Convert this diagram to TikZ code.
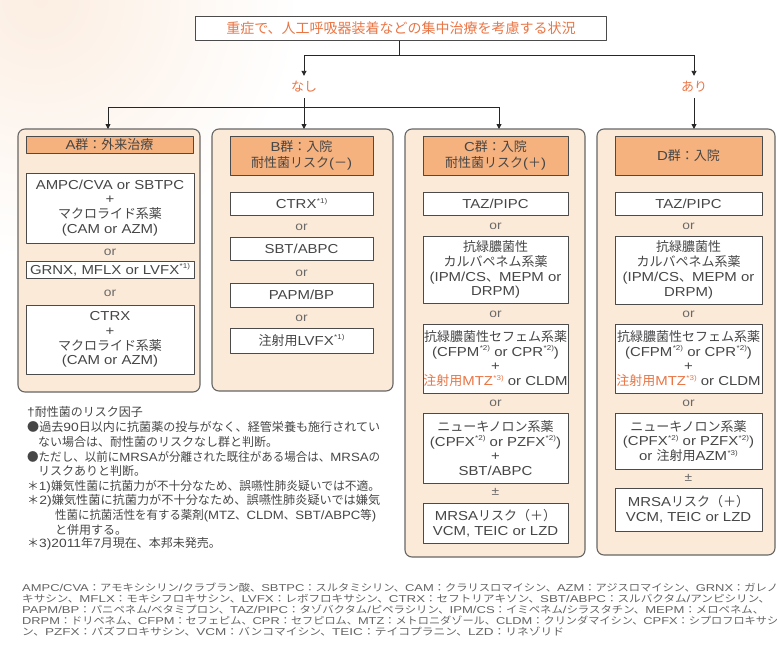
\documentclass[tikz,border=0pt]{standalone}
\usepackage{fontspec}
\usepackage{graphicx}
\usetikzlibrary{arrows.meta}
\setmainfont[FakeStretch=1.15]{Liberation Sans}
\newfontfamily\cjkfont{Noto Sans CJK JP}
% automatic switch between Latin and CJK fonts
\XeTeXinterchartokenstate=1
\ifdefined\newXeTeXintercharclass \newXeTeXintercharclass\CJKcls \else \chardef\CJKcls=20 \fi
\newcount\cjkc
\def\cjkrange#1#2{\cjkc=#1\relax\loop\XeTeXcharclass\cjkc=\CJKcls\relax\ifnum\cjkc<#2\relax\advance\cjkc by 1\relax\repeat}
\cjkrange{"3000}{"30FF}
\cjkrange{"4E00}{"9FFF}
\cjkrange{"FF00}{"FFEF}
\XeTeXcharclass"25CF=\CJKcls
\XeTeXinterchartoks 0 \CJKcls = {\cjkfont}
\XeTeXinterchartoks 4095 \CJKcls = {\cjkfont}
\XeTeXinterchartoks \CJKcls 0 = {\normalfont}
\XeTeXinterchartoks \CJKcls 4095 = {\normalfont}

\definecolor{peach}{RGB}{252,234,216}
\definecolor{hdr}{RGB}{245,177,126}
\definecolor{org}{RGB}{234,118,70}
\definecolor{bord}{RGB}{75,75,75}
\definecolor{txt}{RGB}{70,70,70}
\definecolor{ortxt}{RGB}{105,105,105}
\definecolor{wash}{RGB}{252,238,226}
\definecolor{btxt}{RGB}{100,100,100}

\newcommand\supn[1]{\raisebox{0.42em}{\fontsize{7pt}{7pt}\selectfont\kern0.4pt*#1)}}
\newcommand\bxf{\fontsize{13pt}{14.8pt}\selectfont}

\tikzset{
  ln/.style={line width=0.9pt, draw=black!85},
  arr/.style={ln, -{Triangle[width=5pt,length=5pt]}},
  col/.style={draw=bord!85, line width=1.1pt, fill=peach, rounded corners=7pt, inner sep=0pt, outer sep=0pt},
  hbox/.style={draw=bord, line width=0.9pt, fill=hdr, align=center, text=txt, inner sep=0pt, outer sep=0pt, font=\fontsize{13pt}{16pt}\selectfont},
  wbox/.style={draw=bord, line width=0.9pt, fill=white, align=center, text=txt, inner sep=0pt, outer sep=0pt, font=\bxf},
  ortx/.style={text=ortxt, inner sep=0pt, font=\fontsize{12pt}{12pt}\selectfont},
  topbox/.style={draw=bord, line width=1pt, fill=white, text=org, inner sep=0pt, font=\fontsize{14pt}{16pt}\selectfont},
  lab/.style={text=org, inner sep=0pt, minimum height=22pt, font=\fontsize{13pt}{13pt}\selectfont},
  fnt/.style={anchor=west, text=txt, inner sep=0pt, font=\fontsize{12pt}{12pt}\selectfont},
  btx/.style={anchor=west, text=btxt, inner sep=0pt, font=\fontsize{10pt}{10pt}\selectfont},
}

\begin{document}
\begin{tikzpicture}[x=1pt, y=-1pt, line join=round]
\useasboundingbox (0,0) rectangle (777,659);
\begin{scope}
\clip (0,0) rectangle (777,659);
\shade[inner color=wash, outer color=white] (40,0) circle (260);
\end{scope}

% top
\node[topbox, minimum width=411, minimum height=24] (top) at (401,28) {重症で、人工呼吸器装着などの集中治療を考慮する状況};
\node[lab] (nashi) at (304,87) {なし};
\node[lab] (ari) at (694,87) {あり};

% columns
\node[col, minimum width=182, minimum height=263] (colA) at (109,260.5) {};
\node[col, minimum width=181, minimum height=262] (colB) at (302.5,260) {};
\node[col, minimum width=180, minimum height=428] (colC) at (495,343) {};
\node[col, minimum width=178, minimum height=426] (colD) at (686,342) {};

% connectors
\coordinate (j0) at (399,55);
\coordinate (jl) at (304,55);
\coordinate (jr) at (694,55);
\coordinate (ja) at (108,107);
\coordinate (jb) at (304,107);
\coordinate (jc) at (499,107);
\draw[ln] (j0 |- top.south) -- (j0);
\draw[ln] (jl) -- (jr);
\draw[arr] (jl) -- (nashi.north);
\draw[arr] (jr) -- (ari.north);
\draw[ln] (nashi.south) -- (jb);
\draw[ln] (ja) -- (jc);
\draw[arr] (ja) -- (ja |- colA.north);
\draw[arr] (jb) -- (jb |- colB.north);
\draw[arr] (jc) -- (jc |- colC.north);
\draw[arr] (ari.south) -- (ari.south |- colD.north);

% headers
\node[hbox, minimum width=167, minimum height=17] (hA) at (109.5,144.5) {A群：外来治療};
\node[hbox, minimum width=143, minimum height=39] (hB) at (301.5,155.5) {B群：入院\\耐性菌リスク(－)};
\node[hbox, minimum width=145, minimum height=39] (hC) at (495.5,155.5) {C群：入院\\耐性菌リスク(＋)};
\node[hbox, minimum width=147, minimum height=39] (hD) at (688.5,155.5) {D群：入院};

% column A
\node[wbox, minimum width=168, minimum height=70] (a1) at (110,208) {AMPC/CVA or SBTPC\\+\\マクロライド系薬\\(CAM or AZM)};
\node[ortx] (oa1) at (110,252) {or};
\node[wbox, minimum width=168, minimum height=17] (a2) at (110,270) {GRNX, MFLX or LVFX\supn{1}};
\node[ortx] (oa2) at (110,293) {or};
\node[wbox, minimum width=168, minimum height=69] (a3) at (110,339.5) {CTRX\\+\\マクロライド系薬\\(CAM or AZM)};

% column B
\node[wbox, minimum width=143, minimum height=23] (b1) at (301.5,203.5) {CTRX\supn{1}};
\node[ortx] (ob1) at (301.5,227) {or};
\node[wbox, minimum width=143, minimum height=23] (b2) at (301.5,248.5) {SBT/ABPC};
\node[ortx] (ob2) at (301.5,273) {or};
\node[wbox, minimum width=143, minimum height=24] (b3) at (301.5,295) {PAPM/BP};
\node[ortx] (ob3) at (301.5,318) {or};
\node[wbox, minimum width=143, minimum height=25] (b4) at (301.5,340.5) {注射用LVFX\supn{1}};

% column C
\node[wbox, minimum width=145, minimum height=23] (c1) at (495.5,203.5) {TAZ/PIPC};
\node[ortx] (oc1) at (495.5,226) {or};
\node[wbox, minimum width=145, minimum height=67] (c2) at (495.5,269.5) {抗緑膿菌性\\カルバペネム系薬\\(IPM/CS、MEPM or\\DRPM)};
\node[ortx] (oc2) at (495.5,314) {or};
\node[wbox, minimum width=145, minimum height=69] (c3) at (495.5,358.5) {抗緑膿菌性セフェム系薬\\(CFPM\supn{2} or CPR\supn{2})\\+\\{\color{org}注射用MTZ\supn{3}} or CLDM};
\node[ortx] (oc3) at (495.5,403) {or};
\node[wbox, minimum width=145, minimum height=70] (c4) at (495.5,448) {ニューキノロン系薬\\(CPFX\supn{2} or PZFX\supn{2})\\+\\SBT/ABPC};
\node[ortx] (pc) at (495.5,492) {±};
\node[wbox, minimum width=145, minimum height=40] (c5) at (495.5,523) {MRSAリスク（＋）\\VCM, TEIC or LZD};

% column D
\node[wbox, minimum width=147, minimum height=23] (d1) at (688.5,203.5) {TAZ/PIPC};
\node[ortx] (od1) at (688.5,226) {or};
\node[wbox, minimum width=147, minimum height=68] (d2) at (688.5,270) {抗緑膿菌性\\カルバペネム系薬\\(IPM/CS、MEPM or\\DRPM)};
\node[ortx] (od2) at (688.5,314) {or};
\node[wbox, minimum width=147, minimum height=69] (d3) at (688.5,358.5) {抗緑膿菌性セフェム系薬\\(CFPM\supn{2} or CPR\supn{2})\\+\\{\color{org}注射用MTZ\supn{3}} or CLDM};
\node[ortx] (od3) at (688.5,403) {or};
\node[wbox, minimum width=147, minimum height=56] (d4) at (688.5,441) {ニューキノロン系薬\\(CPFX\supn{2} or PZFX\supn{2})\\or 注射用AZM\supn{3}};
\node[ortx] (pd) at (688.5,478) {±};
\node[wbox, minimum width=147, minimum height=43] (d5) at (688.5,509.5) {MRSAリスク（＋）\\VCM, TEIC or LZD};

% footnotes
\node[fnt] (f0) at (27,412) {†耐性菌のリスク因子};
\node[fnt] (f1) at (27,427) {\resizebox{353pt}{\height}{●過去90日以内に抗菌薬の投与がなく、経管栄養も施行されてい}};
\node[fnt] (f2) at (38,442) {ない場合は、耐性菌のリスクなし群と判断。};
\node[fnt] (f3) at (27,457) {\resizebox{353pt}{\height}{●ただし、以前にMRSAが分離された既往がある場合は、MRSAの}};
\node[fnt] (f4) at (38,471) {リスクありと判断。};
\node[fnt] (f5) at (27,487) {\resizebox{353pt}{\height}{＊1)嫌気性菌に抗菌力が不十分なため、誤嚥性肺炎疑いでは不適。}};
\node[fnt] (f6) at (27,501) {\resizebox{353pt}{\height}{＊2)嫌気性菌に抗菌力が不十分なため、誤嚥性肺炎疑いでは嫌気}};
\node[fnt] (f7) at (55,516) {\resizebox{321pt}{\height}{性菌に抗菌活性を有する薬剤(MTZ、CLDM、SBT/ABPC等)}};
\node[fnt] (f8) at (55,530) {と併用する。};
\node[fnt] (f9) at (27,544) {＊3)2011年7月現在、本邦未発売。};

% abbreviations
\node[btx] (n1) at (22,588) {\resizebox{756pt}{\height}{AMPC/CVA：アモキシシリン/クラブラン酸、SBTPC：スルタミシリン、CAM：クラリスロマイシン、AZM：アジスロマイシン、GRNX：ガレノ}};
\node[btx] (n2) at (22,599) {\resizebox{748pt}{\height}{キサシン、MFLX：モキシフロキサシン、LVFX：レボフロキサシン、CTRX：セフトリアキソン、SBT/ABPC：スルバクタム/アンピシリン、}};
\node[btx] (n3) at (22,610) {\resizebox{742pt}{\height}{PAPM/BP：パニペネム/ベタミプロン、TAZ/PIPC：タゾバクタム/ピペラシリン、IPM/CS：イミペネム/シラスタチン、MEPM：メロペネム、}};
\node[btx] (n4) at (22,621) {\resizebox{756pt}{\height}{DRPM：ドリペネム、CFPM：セフェピム、CPR：セフピロム、MTZ：メトロニダゾール、CLDM：クリンダマイシン、CPFX：シプロフロキサシ}};
\node[btx] (n5) at (22,632) {\resizebox{542pt}{\height}{ン、PZFX：パズフロキサシン、VCM：バンコマイシン、TEIC：テイコプラニン、LZD：リネゾリド}};
\end{tikzpicture}
\end{document}
